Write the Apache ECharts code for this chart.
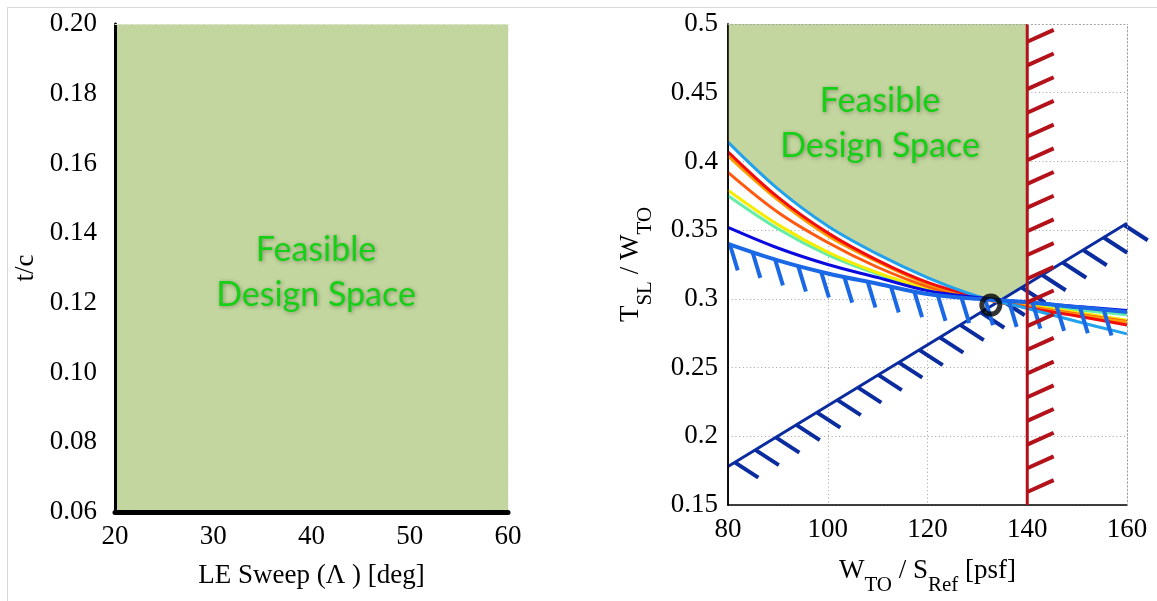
<!DOCTYPE html>
<html>
<head>
<meta charset="utf-8">
<script src="https://cdn.jsdelivr.net/npm/echarts@6/dist/echarts.min.js"></script>
<style>
  html, body { margin: 0; padding: 0; background: #fff; }
  #main { width: 1157px; height: 601px; }
</style>
</head>
<body>
<div id="main"></div>
<script>
// left panel: whole sweep / thickness box is feasible
const sweepRange = [20, 60]
const tcRange = [0.06, 0.20]

// right panel: thrust loading vs wing loading
const wingLoading = [80, 90, 100, 110, 120, 130, 140, 150, 160]
const twSkyBlue = [0.414, 0.380, 0.353, 0.3325, 0.3155, 0.302, 0.293, 0.2835, 0.2745]
const twRed = [0.407, 0.374, 0.348, 0.328, 0.312, 0.3015, 0.2935, 0.2875, 0.281]
const twOrange = [0.404, 0.372, 0.346, 0.327, 0.311, 0.301, 0.294, 0.2885, 0.283]
const twOrangeRed = [0.392, 0.363, 0.341, 0.323, 0.309, 0.3005, 0.2945, 0.289, 0.2835]
const twYellow = [0.379, 0.354, 0.334, 0.319, 0.3075, 0.3005, 0.2955, 0.290, 0.2845]
const twAqua = [0.375, 0.351, 0.332, 0.318, 0.307, 0.3005, 0.296, 0.292, 0.2885]
const twBlue = [0.352, 0.337, 0.325, 0.3155, 0.306, 0.301, 0.2975, 0.2945, 0.2915]
const twCeiling = [0.340, 0.328, 0.3185, 0.311, 0.3035, 0.300, 0.2975, 0.294, 0.2905]

// straight constraints
const climbX = [80, 160]
const climbY = [0.178, 0.355]
const fieldX = [140, 140]
const fieldY = [0.15, 0.5]

// chosen design point
const designPoint = [132.7, 0.2955]

// feasible region outline (right panel)
const feasibleX = [80, 140, 140, 133.5, 130, 120, 110, 100, 90, 80]
const feasibleY = [0.5, 0.5, 0.3105, 0.2975, 0.302, 0.3155, 0.3325, 0.353, 0.380, 0.414]

const serif = 'Liberation Serif'

function pairs (xs, ys) {
  return xs.map(function (x, i) { return [x, ys[i]] })
}

// hatch marks walked along the constraint path in pixel space
function hatchRender (points, opt) {
  return function (params, api) {
    if (params.dataIndex !== 0) return null
    let px = points.map(function (p) { return api.coord(p) })
    let children = []
    let next = opt.offset
    let walked = 0
    for (let i = 1; i < px.length; i++) {
      let x0 = px[i - 1][0], y0 = px[i - 1][1]
      let x1 = px[i][0], y1 = px[i][1]
      let seg = Math.hypot(x1 - x0, y1 - y0)
      while (next <= walked + seg) {
        let t = (next - walked) / seg
        let ax = x0 + t * (x1 - x0)
        let ay = y0 + t * (y1 - y0)
        children.push({
          type: 'line',
          shape: { x1: ax, y1: ay, x2: ax + opt.dx * opt.len, y2: ay + opt.dy * opt.len },
          style: { stroke: opt.color, lineWidth: opt.width }
        })
        next += opt.spacing
      }
      walked += seg
    }
    return { type: 'group', children: children }
  }
}

function hatchSeries (points, opt) {
  return {
    type: 'custom',
    xAxisIndex: 2,
    yAxisIndex: 2,
    z: opt.z || 4,
    clip: false,
    silent: true,
    data: points,
    renderItem: hatchRender(points, opt)
  }
}

function curve (values, color, width, z) {
  return {
    type: 'line',
    xAxisIndex: 2,
    yAxisIndex: 2,
    data: pairs(wingLoading, values),
    showSymbol: false,
    smooth: 0.35,
    z: z || 3,
    lineStyle: { color: color, width: width || 3 }
  }
}

function tickLabel (margin, digits) {
  return {
    margin: margin,
    fontFamily: serif,
    fontSize: 27,
    color: '#000',
    formatter: function (v) {
      return digits ? v.toFixed(digits) : String(+v.toFixed(4))
    }
  }
}

let chart = echarts.init(document.getElementById('main'))

let option = {
  backgroundColor: '#fff',
  animation: false,
  textStyle: { fontFamily: serif },
  grid: [
    { left: 115, top: 24, width: 393, height: 488 },
    { left: 728, top: 24, width: 399, height: 488 }
  ],
  xAxis: [
    {
      gridIndex: 0, type: 'value', position: 'bottom', z: 10,
      min: sweepRange[0], max: sweepRange[1], interval: 10,
      axisLine: { lineStyle: { color: '#000', width: 5 } },
      axisTick: { show: false },
      splitLine: { show: false },
      axisLabel: tickLabel(11, 0),
      name: 'LE Sweep (Λ ) [deg]',
      nameLocation: 'middle',
      nameGap: 50,
      nameTextStyle: { fontFamily: serif, fontSize: 27, color: '#000' }
    },
    {
      gridIndex: 0, type: 'value', position: 'top', z: 10,
      min: sweepRange[0], max: sweepRange[1],
      axisLine: { lineStyle: { color: '#e4e4d4', width: 1, type: 'dashed' } },
      axisTick: { show: false }, axisLabel: { show: false }, splitLine: { show: false }
    },
    {
      gridIndex: 1, type: 'value', position: 'bottom',
      min: 80, max: 160, interval: 20,
      axisLine: { lineStyle: { color: '#000', width: 1.5 } },
      axisTick: { show: false },
      splitLine: { show: true, lineStyle: { color: '#a0a0a0', width: 1, type: [1, 2.7] } },
      axisLabel: tickLabel(11, 0),
      name: 'W{s|TO} / S{s|Ref} [psf]',
      nameLocation: 'middle',
      nameGap: 40,
      nameTextStyle: {
        fontFamily: serif, fontSize: 27, color: '#000',
        rich: { s: { fontFamily: serif, fontSize: 21, color: '#000', padding: [30, 0, 0, 0] } }
      }
    },
    {
      gridIndex: 1, type: 'value', position: 'top', z: 10,
      min: 80, max: 160,
      axisLine: { lineStyle: { color: '#a0a0a0', width: 1, type: [1, 2.7] } },
      axisTick: { show: false }, axisLabel: { show: false }, splitLine: { show: false }
    }
  ],
  yAxis: [
    {
      gridIndex: 0, type: 'value', position: 'left', z: 10,
      min: tcRange[0], max: tcRange[1], interval: 0.02,
      axisLine: { show: true, lineStyle: { color: '#000', width: 3 } },
      axisTick: { show: false },
      splitLine: { show: false },
      axisLabel: tickLabel(18, 2),
      name: 't/c',
      nameLocation: 'middle',
      nameGap: 76,
      nameTextStyle: { fontFamily: serif, fontSize: 27, color: '#000' }
    },
    {
      gridIndex: 0, type: 'value', position: 'right', z: 10,
      min: tcRange[0], max: tcRange[1],
      axisLine: { show: true, lineStyle: { color: '#f2f2ec', width: 1, type: 'dashed' } },
      axisTick: { show: false }, axisLabel: { show: false }, splitLine: { show: false }
    },
    {
      gridIndex: 1, type: 'value', position: 'left',
      min: 0.15, max: 0.5, interval: 0.05,
      axisLine: { show: true, lineStyle: { color: '#000', width: 1.5 } },
      axisTick: { show: false },
      splitLine: { show: true, lineStyle: { color: '#a0a0a0', width: 1, type: [1, 2.7] } },
      axisLabel: tickLabel(10, 0),
      name: 'T{s|SL} / W{s|TO}',
      nameLocation: 'middle',
      nameGap: 72,
      nameTextStyle: {
        fontFamily: serif, fontSize: 27, color: '#000',
        rich: { s: { fontFamily: serif, fontSize: 21, color: '#000', padding: [30, 0, 0, 0] } }
      }
    },
    {
      gridIndex: 1, type: 'value', position: 'right', z: 10,
      min: 0.15, max: 0.5,
      axisLine: { show: true, lineStyle: { color: '#a0a0a0', width: 1, type: [1, 2.7] } },
      axisTick: { show: false }, axisLabel: { show: false }, splitLine: { show: false }
    },
    {
      // left spine drawn again above the shaded region
      gridIndex: 1, type: 'value', position: 'left', z: 10,
      min: 0.15, max: 0.5,
      axisLine: { show: true, lineStyle: { color: '#000', width: 1.5 } },
      axisTick: { show: false }, axisLabel: { show: false }, splitLine: { show: false }
    }
  ],
  graphic: [
    { type: 'line', shape: { x1: 7, y1: 7.5, x2: 1157, y2: 7.5 }, style: { stroke: '#d8d8d8', lineWidth: 1 }, silent: true },
    { type: 'line', shape: { x1: 7.5, y1: 7, x2: 7.5, y2: 601 }, style: { stroke: '#d8d8d8', lineWidth: 1 }, silent: true },
    {
      type: 'text', x: 316, y: 273, z: 20, silent: true,
      style: {
        text: 'Feasible\nDesign Space', fill: '#16d016',
        font: '34px Lato', align: 'center', verticalAlign: 'middle', lineHeight: 45,
        textShadowColor: 'rgba(0,0,0,0.35)', textShadowBlur: 4, textShadowOffsetX: 1, textShadowOffsetY: 1
      }
    },
    {
      type: 'text', x: 880, y: 124, z: 20, silent: true,
      style: {
        text: 'Feasible\nDesign Space', fill: '#16d016',
        font: '34px Lato', align: 'center', verticalAlign: 'middle', lineHeight: 45,
        textShadowColor: 'rgba(0,0,0,0.35)', textShadowBlur: 4, textShadowOffsetX: 1, textShadowOffsetY: 1
      }
    }
  ],
  series: [
    {
      type: 'custom',
      xAxisIndex: 0,
      yAxisIndex: 0,
      z: 1,
      silent: true,
      data: [[sweepRange[0], tcRange[0], sweepRange[1], tcRange[1]]],
      renderItem: function (params, api) {
        let p0 = api.coord([api.value(0), api.value(1)])
        let p1 = api.coord([api.value(2), api.value(3)])
        return {
          type: 'rect',
          shape: { x: p0[0], y: p1[1], width: p1[0] - p0[0], height: p0[1] - p1[1] },
          style: { fill: '#c4d69f' }
        }
      }
    },
    {
      type: 'custom',
      xAxisIndex: 2,
      yAxisIndex: 2,
      z: 1,
      silent: true,
      data: pairs(feasibleX, feasibleY),
      renderItem: function (params, api) {
        if (params.dataIndex !== 0) return null
        let pts = pairs(feasibleX, feasibleY).map(function (p) { return api.coord(p) })
        return { type: 'polygon', shape: { points: pts, smooth: 0 }, style: { fill: '#c4d69f' } }
      }
    },
    {
      type: 'line', xAxisIndex: 2, yAxisIndex: 2, z: 2,
      data: pairs(climbX, climbY), showSymbol: false,
      lineStyle: { color: '#0b2c9f', width: 3 }
    },
    hatchSeries(pairs(climbX, climbY), { offset: 8, spacing: 24, dx: 0.84, dy: 0.545, len: 28, color: '#0b2c9f', width: 4, z: 2 }),
    curve(twAqua, '#62eea8'),
    curve(twYellow, '#f6ec00'),
    curve(twOrangeRed, '#ff5a10'),
    curve(twOrange, '#ff9c00'),
    curve(twRed, '#f20c0c'),
    curve(twSkyBlue, '#22a2ec'),
    curve(twBlue, '#0a0ae0'),
    curve(twCeiling, '#1a68e6', 4, 4),
    hatchSeries(pairs(wingLoading, twCeiling), { offset: 2, spacing: 23.8, dx: 0.29, dy: 0.957, len: 27, color: '#1a68e6', width: 4, z: 4 }),
    {
      type: 'line', xAxisIndex: 2, yAxisIndex: 2, z: 5,
      data: pairs(fieldX, fieldY), showSymbol: false,
      lineStyle: { color: '#b3121b', width: 3 }
    },
    hatchSeries(pairs(fieldX, fieldY).reverse(), { offset: 17.7, spacing: 23.7, dx: 0.912, dy: -0.41, len: 29, color: '#b3121b', width: 4, z: 5 }),
    {
      type: 'scatter', xAxisIndex: 2, yAxisIndex: 2, z: 6,
      data: [designPoint],
      symbol: 'circle',
      symbolSize: 18,
      itemStyle: { color: 'rgba(0,0,0,0)', borderColor: '#000', borderWidth: 5 }
    }
  ]
}

chart.setOption(option)
window.addEventListener('resize', function () {
  chart.resize()
})
</script>
</body>
</html>
